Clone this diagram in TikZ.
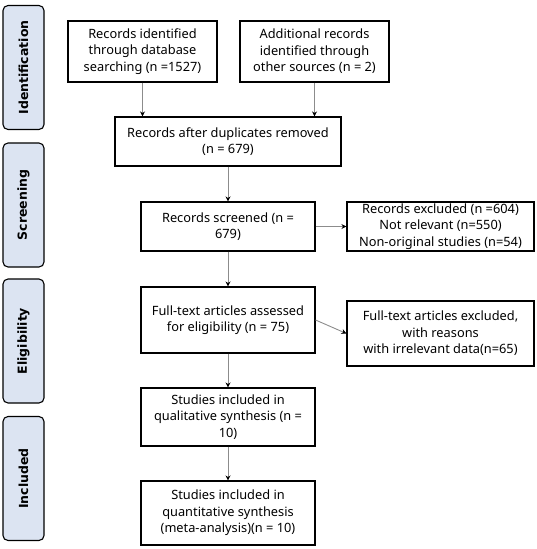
\documentclass[tikz,border=0pt]{standalone}
\usepackage{fontspec}
\setmainfont{Noto Sans}
\newfontfamily\stagefont{DejaVu Sans}
\usetikzlibrary{arrows.meta}
\definecolor{stagefill}{HTML}{DCE4F2}
\definecolor{linkgray}{HTML}{8C8C8C}
\begin{document}
\begin{tikzpicture}[x=1pt, y=-1pt,
    box/.style={draw=black, line width=1.1pt, align=center, inner sep=1pt,
      font=\fontsize{12.8}{16.5}\selectfont},
    stage/.style={draw=black, line width=1.1pt, fill=stagefill, rounded corners=5pt,
      minimum width=124pt, minimum height=41pt, rotate=90,
      font=\fontsize{12.5}{16}\stagefont\bfseries},
    link/.style={draw=linkgray, line width=0.9pt, -{Stealth[black, length=5pt, width=5pt]}}]
  \useasboundingbox (0,0) rectangle (536,549);

  % stages on the left
  \node[stage] (ident) at (23.5, 67.5){Identification};
  \node[stage] (screen) at (23.5, 205){Screening};
  \node[stage] (elig) at (23.5, 341){Eligibility};
  \node[stage] (incl) at (23.5, 478.5){Included};

  % boxes
  \node[box, minimum width=149pt, minimum height=61pt] (database) at (142.5, 51.5){Records identified\\through database\\searching (n =1527)};
  \node[box, minimum width=149pt, minimum height=61pt] (other) at (314.5, 51.5){Additional records\\identified through\\other sources (n = 2)};
  \node[box, minimum width=226pt, minimum height=49pt] (dupl) at (228, 141.5){Records after duplicates removed\\(n = 679)};
  \node[box, minimum width=174pt, minimum height=49pt] (screened) at (228, 226.5){Records screened (n =\\679)};
  \node[box, minimum width=187pt, minimum height=49pt] (excl) at (440.5, 226.5){Records excluded (n =604)\\Not relevant (n=550)\\Non-original studies (n=54)};
  \node[box, minimum width=174pt, minimum height=66pt] (fulltext) at (228, 320){Full-text articles assessed\\for eligibility (n = 75)};
  \node[box, minimum width=187pt, minimum height=65pt] (ftexcl) at (440.5, 333.5){Full-text articles excluded,\\with reasons\\with irrelevant data(n=65)};
  \node[box, minimum width=174pt, minimum height=58pt] (qual) at (228, 417){Studies included in\\qualitative synthesis (n =\\10)};
  \node[box, minimum width=174pt, minimum height=64pt] (quant) at (228, 513){Studies included in\\quantitative synthesis\\(meta-analysis)(n = 10)};

  % arrows
  \draw[link] (database.south) -- (database.south |- dupl.north);
  \draw[link] (other.south) -- (other.south |- dupl.north);
  \draw[link] (dupl.south) -- (screened.north);
  \draw[link] (screened.east) -- (excl.west);
  \draw[link] (fulltext.east) -- (ftexcl.west);
  \draw[link] (screened.south) -- (fulltext.north);
  \draw[link] (fulltext.south) -- (qual.north);
  \draw[link] (qual.south) -- (quant.north);
\end{tikzpicture}
\end{document}
